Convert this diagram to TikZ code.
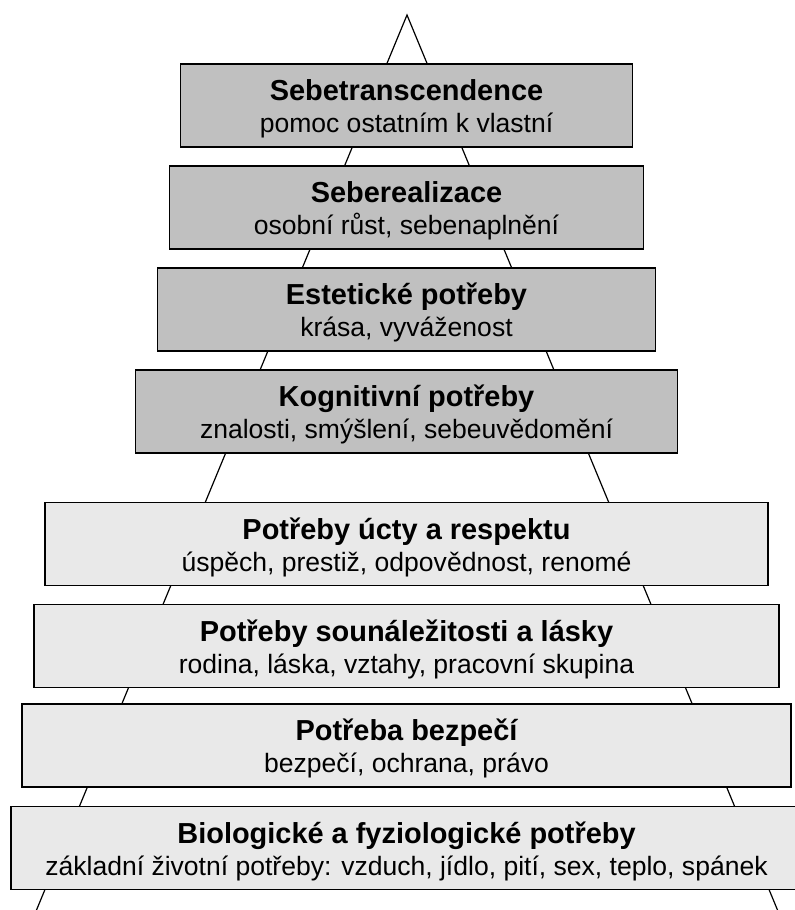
\documentclass[tikz,border=0pt]{standalone}
\usepackage{fontspec}
\setmainfont{Liberation Sans}
\usetikzlibrary{positioning}

\definecolor{upgray}{RGB}{192,192,192}
\definecolor{lowgray}{RGB}{233,233,233}

\newcommand{\titfont}{\bfseries\fontsize{21.7}{24.2}\selectfont}
\newcommand{\subfont}{\fontsize{19.9}{24.2}\selectfont}
\newcommand{\lvl}[2]{\rule{0pt}{21.6pt}{\titfont #1}\\#2\rule[-4.5pt]{0pt}{4.5pt}}

\begin{document}
\begin{tikzpicture}[
    x=0.75pt, y=-0.75pt,
    node distance=13.1pt,
    level/.style ={rectangle, draw=black, line width=1.2pt, inner sep=0pt, minimum height=62.2pt, align=center, font=\subfont},
    upper/.style ={level, fill=upgray},
    lower/.style ={level, fill=lowgray},
    edge/.style ={draw, line width=0.9pt},
]
\useasboundingbox (0,0) rectangle (794,910);

% Pyramid outline
\coordinate (apex) at (407,15);
\coordinate (baseL) at (36.5,910);
\coordinate (baseR) at (777.5,910);
\path [edge] (baseL) -- (apex) -- (baseR);

% Levels
\node [upper, minimum width=339pt] (trans) at (406.5,105.3) {\lvl{Sebetranscendence}{pomoc ostatním k vlastní}};
\node [upper, minimum width=355.5pt, below=of trans] (real) {\lvl{Seberealizace}{osobní růst, sebenaplnění}};
\node [upper, minimum width=373.5pt, below=of real] (est) {\lvl{Estetické potřeby}{krása, vyváženost}};
\node [upper, minimum width=406.5pt, below=of est] (kog) {\lvl{Kognitivní potřeby}{znalosti, smýšlení, sebeuvědomění}};
\node [lower, minimum width=542pt, below=36pt of kog] (ucta) {\lvl{Potřeby úcty a respektu}{úspěch, prestiž, odpovědnost, renomé}};
\node [lower, minimum width=559pt, below=of ucta] (laska) {\lvl{Potřeby sounáležitosti a lásky}{rodina, láska, vztahy, pracovní skupina}};
\node [lower, minimum width=577pt, below=11.25pt of laska] (bezp) {\lvl{Potřeba bezpečí}{bezpečí, ochrana, právo}};
\node [lower, minimum width=593pt, below=13.5pt of bezp] (bio) {\lvl{Biologické a fyziologické potřeby}{základní životní potřeby: vzduch, jídlo, pití, sex, teplo, spánek}};

\end{tikzpicture}
\end{document}
